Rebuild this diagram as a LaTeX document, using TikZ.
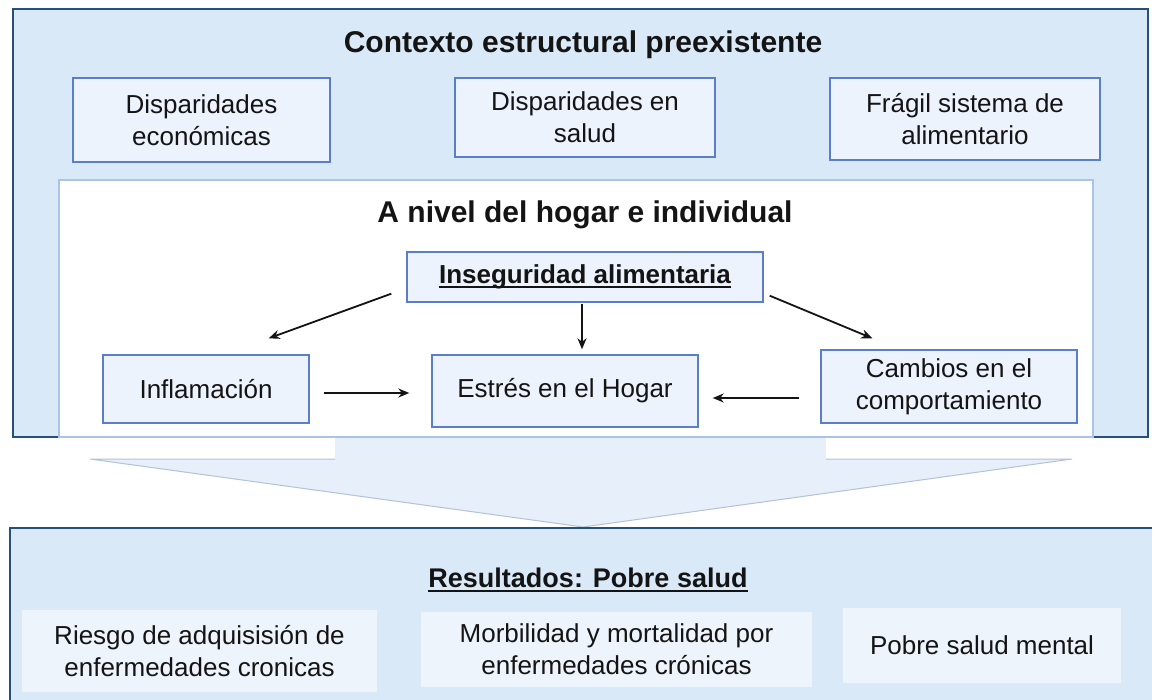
\documentclass[tikz,border=0pt]{standalone}
\usepackage{fontspec}
\setmainfont{Liberation Sans}
\usetikzlibrary{arrows.meta,calc}

\definecolor{outerfill}{HTML}{DAE9F8}
\definecolor{outerline}{HTML}{24507A}
\definecolor{boxfill}{HTML}{ECF3FC}
\definecolor{boxline}{HTML}{5A7FC8}
\definecolor{innerline}{HTML}{A8C4EA}
\definecolor{resfill}{HTML}{EEF4FB}
\definecolor{arrowfill}{HTML}{E6EFFA}
\definecolor{arrowline}{HTML}{B4C3D4}
\definecolor{txt}{HTML}{141414}

% underline at a fixed depth
\newcommand{\ulbar}[1]{\setbox0\hbox{#1}\rlap{\rule[-4.6pt]{\wd0}{1.8pt}}\box0}

\begin{document}
\begin{tikzpicture}[x=1pt,y=1pt,
	cbox/.style={draw=boxline, line width=1.4pt, fill=boxfill, align=center, inner sep=0pt, text=txt, font=\fontsize{26}{32}\selectfont},
	rbox/.style={fill=resfill, align=center, inner sep=0pt, text=txt, font=\fontsize{26}{32}\selectfont},
	heading/.style={text=txt, font=\fontsize{30}{36}\selectfont\bfseries},
	arr/.style={-{Stealth[length=11pt,width=9pt]}, line width=1.8pt, draw=txt}]

	\useasboundingbox (0,0) rectangle (1155,-700);
	\fill[white] (0,0) rectangle (1155,-700);

	% Big arrow down
	\fill[arrowfill] (335,-430) rectangle (826,-460);
	\draw[arrowline, line width=1pt, fill=arrowfill] (826,-459) -- (1072,-459)
		-- (583,-527) -- (90,-459) -- (335,-459);
	\fill[arrowfill] (336,-437) rectangle (825,-461);

	% Outer frame
	\draw[outerline, line width=2pt, fill=outerfill] (13,-9) rectangle (1148,-437);
	\node[heading] (ctx) at (583,-45) {Contexto estructural preexistente};

	%Context boxes
	\node[cbox, minimum width=257pt, minimum height=84pt] (econ) at (201.5,-120) {Disparidades\\económicas};
	\node[cbox, minimum width=260pt, minimum height=79pt] (salud) at (585,-117.5) {Disparidades en\\salud};
	\node[cbox, minimum width=270pt, minimum height=82pt] (fragil) at (965,-119) {Frágil sistema de\\alimentario};

	% Inner frame
	\draw[innerline, line width=1.5pt, fill=white] (59,-180) rectangle (1093,-437);
	\node[heading] (hogar) at (585,-215) {A nivel del hogar e individual};

	% Household boxes
	\node[cbox, minimum width=356pt, minimum height=50pt, font=\fontsize{26}{32}\selectfont\bfseries] (inseg) at (585,-277) {\ulbar{Inseguridad alimentaria}};
	\node[cbox, minimum width=266pt, minimum height=72pt] (estres) at (565,-391) {Estrés en el Hogar};
	\node[cbox, minimum width=206pt, minimum height=68pt] (infl) at (206,-389) {Inflamación};
	\node[cbox, minimum width=256pt, minimum height=73pt] (cambios) at (949,-386.5) {Cambios en el\\comportamiento};

	% Arrows
	\draw[arr] ($(inseg.south west)+(-15,9)$) -- ($(infl.north east)+(-41,16)$);
	\draw[arr, shorten <=1pt, shorten >=5pt] (inseg.south -| 582,0) -- (estres.north -| 582,0);
	\draw[arr] ($(inseg.south east)+(6,7)$) -- ($(cambios.north west)+(52,11)$);
	\draw[arr, shorten <=14pt, shorten >=22pt] (infl.east |- 0,-393) -- (estres.west |- 0,-393);
	\draw[arr, shorten <=21pt, shorten >=14pt] (cambios.west |- 0,-398) -- (estres.east |- 0,-398);

	% Bottom frame
	\fill[outerfill] (10,-528) rectangle (1152,-712);
	\draw[outerline, line width=2pt] (10,-712) -- (10,-528) -- (1152,-528);
	\node[heading, font=\fontsize{27}{32}\selectfont\bfseries] (res) at (588,-580) {\ulbar{Resultados: Pobre salud}};

	% Outcome boxes
	\node[rbox, minimum width=355pt, minimum height=82pt] (riesgo) at (199.5,-651) {Riesgo de adquisisión de\\enfermedades cronicas};
	\node[rbox, minimum width=391pt, minimum height=75pt] (morb) at (616.5,-649.5) {Morbilidad y mortalidad por\\enfermedades crónicas};
	\node[rbox, minimum width=278pt, minimum height=75pt] (mental) at (982,-645.5) {Pobre salud mental};

\end{tikzpicture}
\end{document}
